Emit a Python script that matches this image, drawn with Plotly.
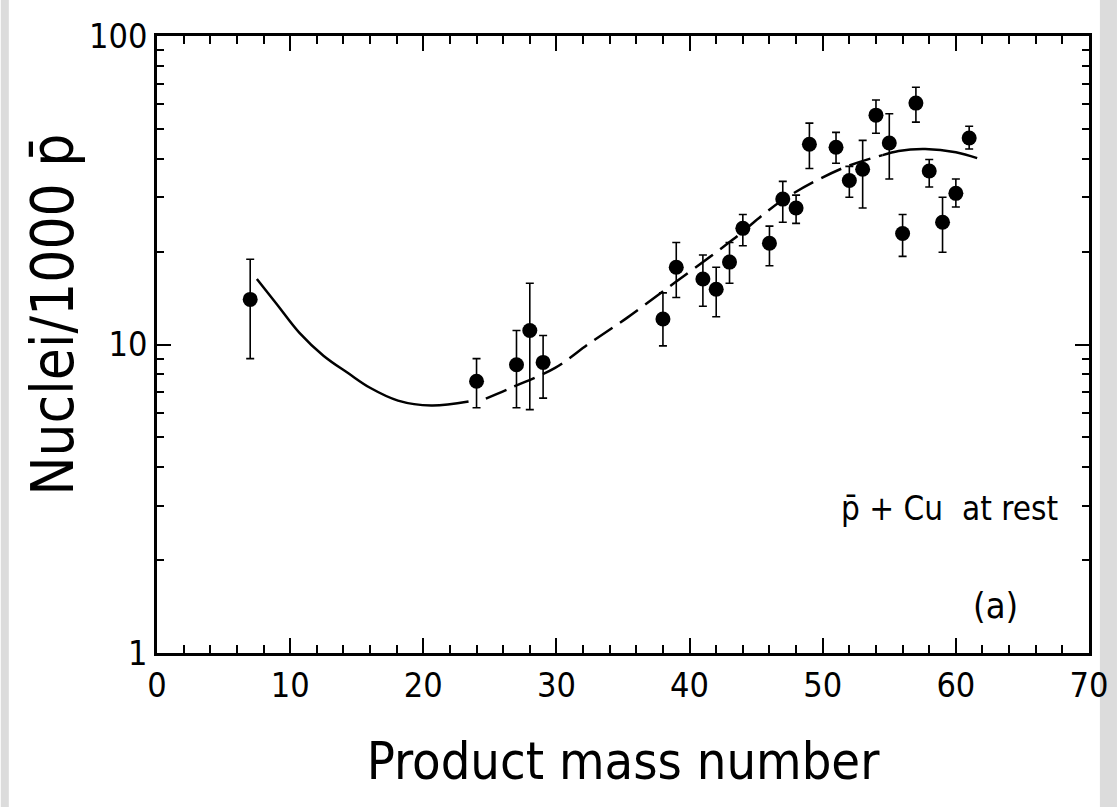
import plotly.graph_objects as go

# Data points: product mass number, yield per 1000 pbar, error bounds
mass = [7, 24, 27, 28, 29, 38, 39, 41, 42, 43, 44, 46, 47, 48, 49, 51, 52, 53, 54, 55, 56, 57, 58, 59, 60, 61]
yld = [14.0, 7.6, 8.6, 11.1, 8.75, 12.1, 17.8, 16.3, 15.1, 18.5, 23.8, 21.3, 29.6, 27.7, 44.6, 43.6, 34.0, 37.0, 55.4, 45.0, 22.9, 60.6, 36.5, 24.9, 30.9, 46.7]
err_hi = [18.9, 9.0, 11.1, 15.8, 10.7, 14.7, 21.4, 19.5, 17.8, 21.4, 26.4, 24.2, 33.8, 30.5, 52.2, 48.7, 37.8, 45.9, 62.0, 56.0, 26.4, 68.2, 39.8, 30.0, 34.4, 51.0]
err_lo = [9.0, 6.24, 6.24, 6.15, 6.7, 9.9, 14.2, 13.3, 12.3, 15.8, 20.9, 18.0, 24.9, 24.7, 37.2, 38.7, 30.0, 27.7, 48.4, 34.4, 19.3, 52.6, 32.4, 19.9, 27.9, 43.0]

# Fitted curve (three styled pieces)
curve1_x = [7.5, 9, 10.7, 12.5, 14.4, 16, 18.1, 20.6, 23.4]
curve1_y = [16.3, 13.5, 10.9, 9.2, 8.05, 7.24, 6.58, 6.34, 6.53]
curve2_x = [24.7, 26.6, 29.9, 32.5, 35.3, 38.3, 39.6, 43.2, 47.0, 51.5, 54.5]
curve2_y = [6.68, 7.24, 8.4, 10.1, 12.2, 15.2, 16.7, 21.8, 29.4, 37.3, 41.1]
curve3_x = [54.5, 55.7, 57.7, 60, 61.6]
curve3_y = [41.1, 42.4, 43.0, 42.0, 40.2]

x_ticks = [0, 10, 20, 30, 40, 50, 60, 70]
y_ticks = [1, 10, 100]

FONT = "Liberation Sans Narrow, DejaVu Sans Condensed, Arial Narrow, sans-serif"

err_plus = [h - v for h, v in zip(err_hi, yld)]
err_minus = [v - l for v, l in zip(yld, err_lo)]

fig = go.Figure()
fig.add_trace(go.Scatter(x=curve1_x, y=curve1_y, mode="lines", line=dict(color="black", width=2.5, shape="spline"), showlegend=False, hoverinfo="skip"))
fig.add_trace(go.Scatter(x=curve2_x, y=curve2_y, mode="lines", line=dict(color="black", width=2.5, shape="spline", dash="22px,9px"), showlegend=False, hoverinfo="skip"))
fig.add_trace(go.Scatter(x=curve3_x, y=curve3_y, mode="lines", line=dict(color="black", width=2.5, shape="spline"), showlegend=False, hoverinfo="skip"))
fig.add_trace(go.Scatter(
    x=mass, y=yld, mode="markers",
    marker=dict(color="black", size=15),
    error_y=dict(type="data", symmetric=False, array=err_plus, arrayminus=err_minus,
                 color="black", thickness=1.6, width=4),
    showlegend=False))

axis_common = dict(showgrid=False, zeroline=False, showline=True, linecolor="black", linewidth=2.5,
                   mirror="ticks", ticks="inside", tickcolor="black", tickwidth=2,
                   tickfont=dict(family=FONT, size=34, color="black"))

fig.update_xaxes(range=[0, 70], tickvals=x_ticks, ticklen=15,
                 minor=dict(dtick=2, ticks="inside", ticklen=8, tickcolor="black", tickwidth=1.5),
                 title=dict(text="Product mass number", font=dict(family=FONT, size=52, color="black"), standoff=40),
                 **axis_common)
fig.update_yaxes(type="log", range=[0, 2], tickvals=y_ticks, ticktext=["1", "10", "100"], ticklen=14,
                 minor=dict(dtick="D1", ticks="inside", ticklen=7, tickcolor="black", tickwidth=1.5),
                 **axis_common)

# y-axis title placed as rotated annotation
fig.add_annotation(x=-0.112, y=0.548, xref="paper", yref="paper", text="Nuclei/1000 p\u0304",
                   textangle=-90, showarrow=False, xanchor="center", yanchor="middle",
                   font=dict(family=FONT, size=58, color="black"))

fig.add_annotation(x=51.2, y=0.468, xref="x", yref="y", text="p\u0304 + Cu  at rest", showarrow=False,
                   xanchor="left", yanchor="middle", font=dict(family=FONT, size=33, color="black"))
fig.add_annotation(x=63.0, y=0.153, xref="x", yref="y", text="(a)", showarrow=False,
                   xanchor="center", yanchor="middle", font=dict(family=FONT, size=36, color="black"))

# grey page edges of the scan
fig.add_shape(type="rect", xref="paper", yref="paper", x0=-0.1676, x1=-0.1590, y0=-0.6, y1=1.2,
              fillcolor="#dcdcdc", line=dict(width=0), layer="below")
fig.add_shape(type="rect", xref="paper", yref="paper", x0=1.0117, x1=1.03, y0=-0.6, y1=1.2,
              fillcolor="#dcdcdc", line=dict(width=0), layer="below")

fig.update_layout(width=1120, height=807, margin=dict(l=157, r=26, t=36, b=154),
                  plot_bgcolor="white", paper_bgcolor="white")

fig.write_html("out.html")
